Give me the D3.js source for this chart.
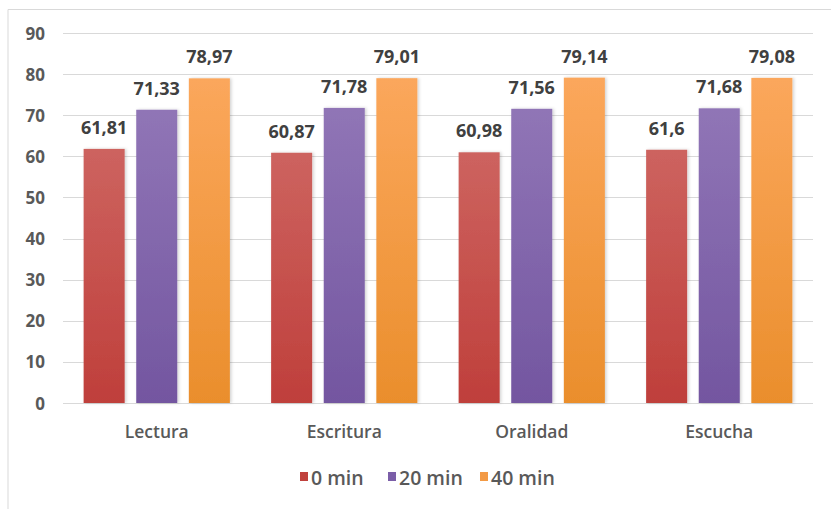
<!DOCTYPE html>
<html>
<head>
<meta charset="utf-8">
<script src="https://cdn.jsdelivr.net/npm/d3@7"></script>
<style>
  body { margin: 0; background: #fff; }
  text { font-family: "Open Sans", Lato, sans-serif; }
</style>
</head>
<body>
<svg id="chart" width="831" height="509"></svg>
<script>
const categories = ["Lectura", "Escritura", "Oralidad", "Escucha"]
const seriesNames = ["0 min", "20 min", "40 min"]
const min0 = [61.81, 60.87, 60.98, 61.6]
const min20 = [71.33, 71.78, 71.56, 71.68]
const min40 = [78.97, 79.01, 79.14, 79.08]
const yTicks = [0, 10, 20, 30, 40, 50, 60, 70, 80, 90]

const seriesValues = [min0, min20, min40]
// light top / dark bottom like the office gradient fill
const colors = [
  { top: "#cd635f", bottom: "#bf3f3b", key: "#c0413d" },
  { top: "#9075b6", bottom: "#7356a0", key: "#7b5ea8" },
  { top: "#fba75c", bottom: "#ea8e2c", key: "#f39a45" }
]

const svg = d3.select("#chart")
const plot = { left: 63, right: 813, top: 33, bottom: 403 }

// chart frame (top + left edges show in the picture)
svg.append("path")
  .attr("d", "M8,509 L8,9.5 L831,9.5")
  .attr("fill", "none")
  .attr("stroke", "#d9d9d9")
  .attr("stroke-width", 1)

const y = d3.scaleLinear().domain([0, 90]).range([plot.bottom, plot.top])
const x0 = d3.scaleBand().domain(categories).range([plot.left, plot.right]).paddingInner(0.22).paddingOuter(0.11)
const x1 = d3.scaleBand().domain(seriesNames).range([0, x0.bandwidth()]).paddingInner(0.22)

const defs = svg.append("defs")
colors.forEach((c, i) => {
  const g = defs.append("linearGradient").attr("id", "grad" + i)
    .attr("x1", 0).attr("y1", 0).attr("x2", 0).attr("y2", 1)
  g.append("stop").attr("offset", "0%").attr("stop-color", c.top)
  g.append("stop").attr("offset", "100%").attr("stop-color", c.bottom)
})
const shadow = defs.append("filter").attr("id", "shadow")
  .attr("x", "-20%").attr("y", "-10%").attr("width", "150%").attr("height", "130%")
shadow.append("feDropShadow").attr("dx", 1.5).attr("dy", 0).attr("stdDeviation", 1.5)
  .attr("flood-color", "#000").attr("flood-opacity", 0.18)

// gridlines
svg.append("g")
  .selectAll("line")
  .data(yTicks)
  .enter()
  .append("line")
  .attr("x1", plot.left)
  .attr("x2", plot.right)
  .attr("y1", d => Math.round(y(d)) + 0.5)
  .attr("y2", d => Math.round(y(d)) + 0.5)
  .attr("stroke", "#d9d9d9")
  .attr("stroke-width", 1)

// y tick labels
svg.append("g")
  .selectAll("text")
  .data(yTicks)
  .enter()
  .append("text")
  .attr("x", 45)
  .attr("y", d => y(d) + 6.5)
  .attr("text-anchor", "end")
  .attr("font-size", 17)
  .attr("font-weight", 700)
  .attr("fill", "#595959")
  .text(d => d)

// bars
const groups = svg.append("g")
  .selectAll("g")
  .data(categories)
  .enter()
  .append("g")
  .attr("transform", d => `translate(${x0(d)},0)`)

groups.selectAll("rect")
  .data((d, i) => seriesNames.map((s, j) => ({ series: s, j: j, value: seriesValues[j][i] })))
  .enter()
  .append("rect")
  .attr("x", d => x1(d.series))
  .attr("y", d => y(d.value))
  .attr("width", x1.bandwidth())
  .attr("height", d => y(0) - y(d.value))
  .attr("fill", d => `url(#grad${d.j})`)
  .attr("filter", "url(#shadow)")

groups.selectAll("text")
  .data((d, i) => seriesNames.map((s, j) => ({ series: s, value: seriesValues[j][i] })))
  .enter()
  .append("text")
  .attr("x", d => x1(d.series) + x1.bandwidth() / 2)
  .attr("y", d => y(d.value) - 15)
  .attr("text-anchor", "middle")
  .attr("font-size", 18)
  .attr("font-weight", 700)
  .attr("fill", "#404040")
  .text(d => String(d.value).replace(".", ","))

// category labels
svg.append("g")
  .selectAll("text")
  .data(categories)
  .enter()
  .append("text")
  .attr("x", d => x0(d) + x0.bandwidth() / 2)
  .attr("y", 438)
  .attr("text-anchor", "middle")
  .attr("font-size", 17.5)
  .attr("font-weight", 600)
  .attr("fill", "#595959")
  .text(d => d)

// legend
const legendX = [300, 388, 480]
const legend = svg.append("g")
  .selectAll("g")
  .data(seriesNames)
  .enter()
  .append("g")
  .attr("transform", (d, i) => `translate(${legendX[i]},472)`)
legend.append("rect")
  .attr("width", 8).attr("height", 9)
  .attr("fill", (d, i) => colors[i].key)
legend.append("text")
  .attr("x", 11)
  .attr("y", 12.5)
  .attr("font-size", 19.5)
  .attr("font-weight", 600)
  .attr("fill", "#595959")
  .text(d => d)
</script>
</body>
</html>
